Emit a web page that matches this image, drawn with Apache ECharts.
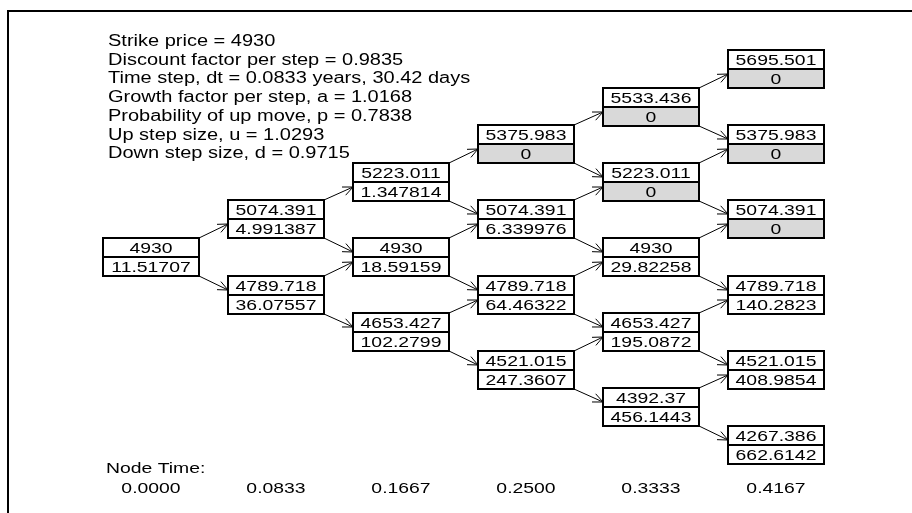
<!DOCTYPE html>
<html>
<head>
<meta charset="utf-8">
<script src="https://cdn.jsdelivr.net/npm/echarts@6/dist/echarts.min.js"></script>
<style>
html,body{margin:0;padding:0;background:#fff;}
#chart{width:912px;height:513px;}
</style>
</head>
<body>
<div id="chart"></div>
<script>
// ---- data ----
const infoLines = [
  "Strike price = 4930",
  "Discount factor per step = 0.9835",
  "Time step, dt = 0.0833 years, 30.42 days",
  "Growth factor per step, a = 1.0168",
  "Probability of up move, p = 0.7838",
  "Up step size, u = 1.0293",
  "Down step size, d = 0.9715"
];
const nodeTimeTitle = "Node Time:";
const nodeTimes = ["0.0000", "0.0833", "0.1667", "0.2500", "0.3333", "0.4167"];
const stockPrices = [
  [4930],
  [5074.391, 4789.718],
  [5223.011, 4930, 4653.427],
  [5375.983, 5074.391, 4789.718, 4521.015],
  [5533.436, 5223.011, 4930, 4653.427, 4392.37],
  [5695.501, 5375.983, 5074.391, 4789.718, 4521.015, 4267.386]
];
const optionValues = [
  [11.51707],
  [4.991387, 36.07557],
  [1.347814, 18.59159, 102.2799],
  [0, 6.339976, 64.46322, 247.3607],
  [0, 0, 29.82258, 195.0872, 456.1443],
  [0, 0, 0, 140.2823, 408.9854, 662.6142]
];

// ---- build series data ----
const nodeData = [];
const edgeData = [];
stockPrices.forEach((col, i) => {
  col.forEach((price, j) => {
    const level = i - 2 * j;
    nodeData.push([i, level, price, optionValues[i][j]]);
    if (i < stockPrices.length - 1) {
      edgeData.push([i, level, 1]);
      edgeData.push([i, level, -1]);
    }
  });
});
const timeData = nodeTimes.map((t, i) => [i, -5]);

const BOX_W = 96, HALF_H = 19;
const FAMILY = '"Liberation Sans", Arial, sans-serif';
const BOX_FONT = '15.5px ' + FAMILY;
const STRETCH = 1.25;

function stretchedText(x, y, text, font, align) {
  return {
    type: 'text', x: x, y: y, scaleX: STRETCH,
    style: { x: 0, y: 0, text: text, font: font, fill: '#000', align: align || 'center', verticalAlign: 'middle' }
  };
}

function renderNode(params, api) {
  const c = api.coord([api.value(0), api.value(1)]);
  const x0 = Math.round(c[0] - BOX_W / 2);
  const ym = Math.round(c[1]);
  const price = api.value(2), opt = api.value(3);
  return {
    type: 'group',
    children: [
      { type: 'rect', shape: { x: x0, y: ym - HALF_H, width: BOX_W, height: HALF_H },
        style: { fill: '#fff', stroke: '#000', lineWidth: 2 } },
      { type: 'rect', shape: { x: x0, y: ym, width: BOX_W, height: HALF_H },
        style: { fill: opt === 0 ? '#d9d9d9' : '#fff', stroke: '#000', lineWidth: 2 } },
      stretchedText(x0 + BOX_W / 2, ym - HALF_H / 2 + 1, String(price), BOX_FONT),
      stretchedText(x0 + BOX_W / 2, ym + HALF_H / 2 + 1, String(opt), BOX_FONT)
    ]
  };
}

function renderEdge(params, api) {
  const i = api.value(0), k = api.value(1), dir = api.value(2);
  const a = api.coord([i, k]);
  const b = api.coord([i + 1, k + dir]);
  const sx = Math.round(a[0] + BOX_W / 2), sy = Math.round(a[1]) - dir * HALF_H;
  const ex = Math.round(b[0] - BOX_W / 2), ey = Math.round(b[1]) + dir * 5;
  const dx = ex - sx, dy = ey - sy, len = Math.sqrt(dx * dx + dy * dy);
  const ux = dx / len, uy = dy / len;
  const L = 11, th = 24 * Math.PI / 180;
  const cos = Math.cos(th), sin = Math.sin(th);
  const h1 = [ex - L * (ux * cos - uy * sin), ey - L * (ux * sin + uy * cos)];
  const h2 = [ex - L * (ux * cos + uy * sin), ey - L * (-ux * sin + uy * cos)];
  return {
    type: 'group',
    children: [
      { type: 'line', shape: { x1: sx, y1: sy, x2: ex, y2: ey }, style: { stroke: '#000', lineWidth: 1 } },
      { type: 'polyline', shape: { points: [h1, [ex, ey], h2] }, style: { stroke: '#000', lineWidth: 1, fill: null } }
    ]
  };
}

function renderTime(params, api) {
  const c = api.coord([api.value(0), api.value(1)]);
  return stretchedText(c[0], c[1] + 44, nodeTimes[api.value(0)], '15.5px ' + FAMILY);
}

const chart = echarts.init(document.getElementById('chart'), null, { renderer: 'canvas' });
chart.setOption({
  animation: false,
  backgroundColor: '#fff',
  grid: { left: 151, top: 69, width: 625, height: 376 },
  xAxis: {
    type: 'value', min: 0, max: 5, interval: 1, show: false
  },
  yAxis: {
    type: 'value', min: -5, max: 5, interval: 1, show: false
  },
  graphic: [
    { type: 'rect', shape: { x: 8, y: 11, width: 2000, height: 2000 },
      style: { fill: null, stroke: '#000', lineWidth: 2 }, silent: true },
    { type: 'text', x: 108, y: 32.3, scaleX: STRETCH, silent: true,
      style: { x: 0, y: 0, text: infoLines.join('\n'), font: '16px ' + FAMILY,
        lineHeight: 18.7, fill: '#000', verticalAlign: 'top' } },
    { type: 'text', x: 106, y: 469, scaleX: STRETCH, silent: true,
      style: { x: 0, y: 0, text: nodeTimeTitle, font: '15.5px ' + FAMILY, fill: '#000', verticalAlign: 'middle' } }
  ],
  series: [
    { type: 'custom', renderItem: renderEdge, data: edgeData, silent: true, clip: false,
      encode: { x: 0, y: 1 } },
    { type: 'custom', renderItem: renderNode, data: nodeData, silent: true, clip: false,
      encode: { x: 0, y: 1 } },
    { type: 'custom', renderItem: renderTime, data: timeData, silent: true, clip: false,
      encode: { x: 0, y: 1 } }
  ]
});
</script>
</body>
</html>
